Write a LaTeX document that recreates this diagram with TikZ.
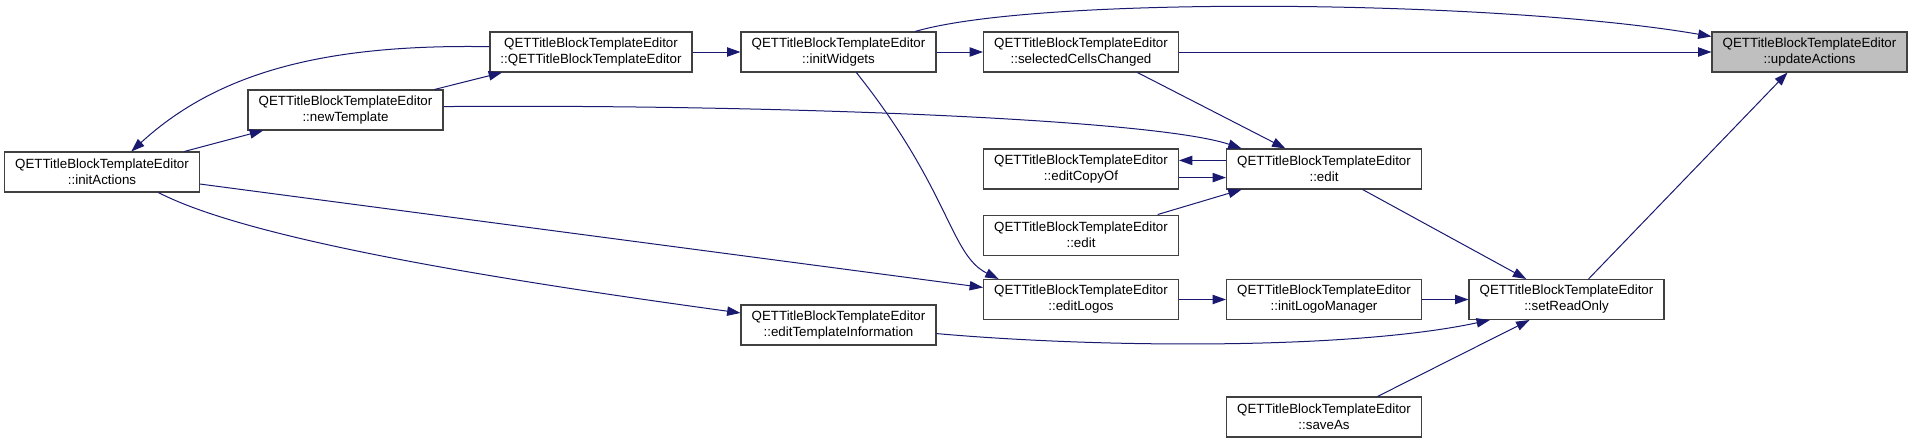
\documentclass[tikz,border=0pt]{standalone}
\usepackage{fontspec}
\setmainfont{Liberation Sans}
\usepackage{xcolor}
\usetikzlibrary{arrows.meta,positioning}
\definecolor{edgeblue}{HTML}{191970}

\begin{document}
\begin{tikzpicture}[
    x=0.75pt, y=-0.75pt,
    fn_base/.style={rectangle, draw=black!75, line width=0.8pt, minimum width=146.25pt, minimum height=30pt, inner sep=1pt, align=center, font=\fontsize{10}{12}\selectfont},
    fn_plain/.style={fn_base, fill=white},
    fn_main/.style={fn_base, fill=black!25},
    arrow/.style={-{Triangle[length=10pt,width=7pt]}, line width=0.75pt, draw=edgeblue}
]
    \useasboundingbox (0,0) rectangle (1912,443);

    % --- CHIAMANTI A SINISTRA ---
    \node[fn_plain] (actions) at (102, 172) {QETTitleBlockTemplateEditor\\::initActions};
    \node[fn_plain] (newtpl) at (345.5, 110) {QETTitleBlockTemplateEditor\\::newTemplate};
    \node[fn_plain, minimum width=151.5pt] (ctor) at (591, 52) {QETTitleBlockTemplateEditor\\::QETTitleBlockTemplateEditor};
    \node[fn_plain] (initwidgets) at (838.5, 52) {QETTitleBlockTemplateEditor\\::initWidgets};
    \node[fn_plain] (edittplinfo) at (838.5, 325) {QETTitleBlockTemplateEditor\\::editTemplateInformation};

    % --- COLONNA CENTRALE ---
    \node[fn_plain] (selcells) at (1081, 52) {QETTitleBlockTemplateEditor\\::selectedCellsChanged};
    \node[fn_plain] (editcopy) at (1081, 169) {QETTitleBlockTemplateEditor\\::editCopyOf};
    \node[fn_plain, below=18.75pt of editcopy] (editb) {QETTitleBlockTemplateEditor\\::edit};
    \node[fn_plain] (editlogos) at (1081, 299.5) {QETTitleBlockTemplateEditor\\::editLogos};
    \node[fn_plain] (edit) at (1324, 169) {QETTitleBlockTemplateEditor\\::edit};
    \node[fn_plain] (logomgr) at (1324, 299.5) {QETTitleBlockTemplateEditor\\::initLogoManager};
    \node[fn_plain] (saveas) at (1324, 417) {QETTitleBlockTemplateEditor\\::saveAs};

    % --- DESTRA ---
    \node[fn_plain] (readonly) at (1566.5, 299.5) {QETTitleBlockTemplateEditor\\::setReadOnly};
    \node[fn_main] (update) at (1809.5, 52) {QETTitleBlockTemplateEditor\\::updateActions};

    % riga in alto
    \draw[arrow] (ctor.east) -- (initwidgets.west);
    \draw[arrow] (initwidgets.east) -- (selcells.west);
    \draw[arrow] (selcells.east) -- (update.west);
    \draw[arrow] (initwidgets.15) .. controls (1040,-5) and (1500,0) .. (update.171);
    \draw[arrow] (readonly.43) -- (update.223);

    % initActions / newTemplate
    \draw[arrow] (ctor.177) .. controls (330,44) and (220,70) .. (actions.35);
    \draw[arrow] (actions.14) -- (newtpl.194);
    \draw[arrow] (newtpl.13) -- (ctor.193);
    \draw[arrow] (newtpl.2) .. controls (750,104) and (1150,118) .. (edit.166);
    \draw[arrow] (actions.-7) -- (editlogos.173);
    \draw[arrow] (actions.-20) .. controls (250,240) and (500,280) .. (edittplinfo.173);

    % edit
    \draw[arrow] (selcells.-20) -- (edit.152);
    \draw[arrow] (edit.175) -- (editcopy.5);
    \draw[arrow] (editcopy.-5) -- (edit.185);
    \draw[arrow] (editb.15) -- (edit.194);
    \draw[arrow] (edit.-28) -- (readonly.153);

    % editLogos / setReadOnly
    \draw[arrow] (initwidgets.-49) .. controls (950,190) and (950,255) .. (editlogos.166);
    \draw[arrow] (editlogos.east) -- (logomgr.west);
    \draw[arrow] (logomgr.east) -- (readonly.west);
    \draw[arrow] (edittplinfo.-5) .. controls (1100,348) and (1350,350) .. (readonly.195);
    \draw[arrow] (saveas.21) -- (readonly.209);

\end{tikzpicture}
\end{document}
